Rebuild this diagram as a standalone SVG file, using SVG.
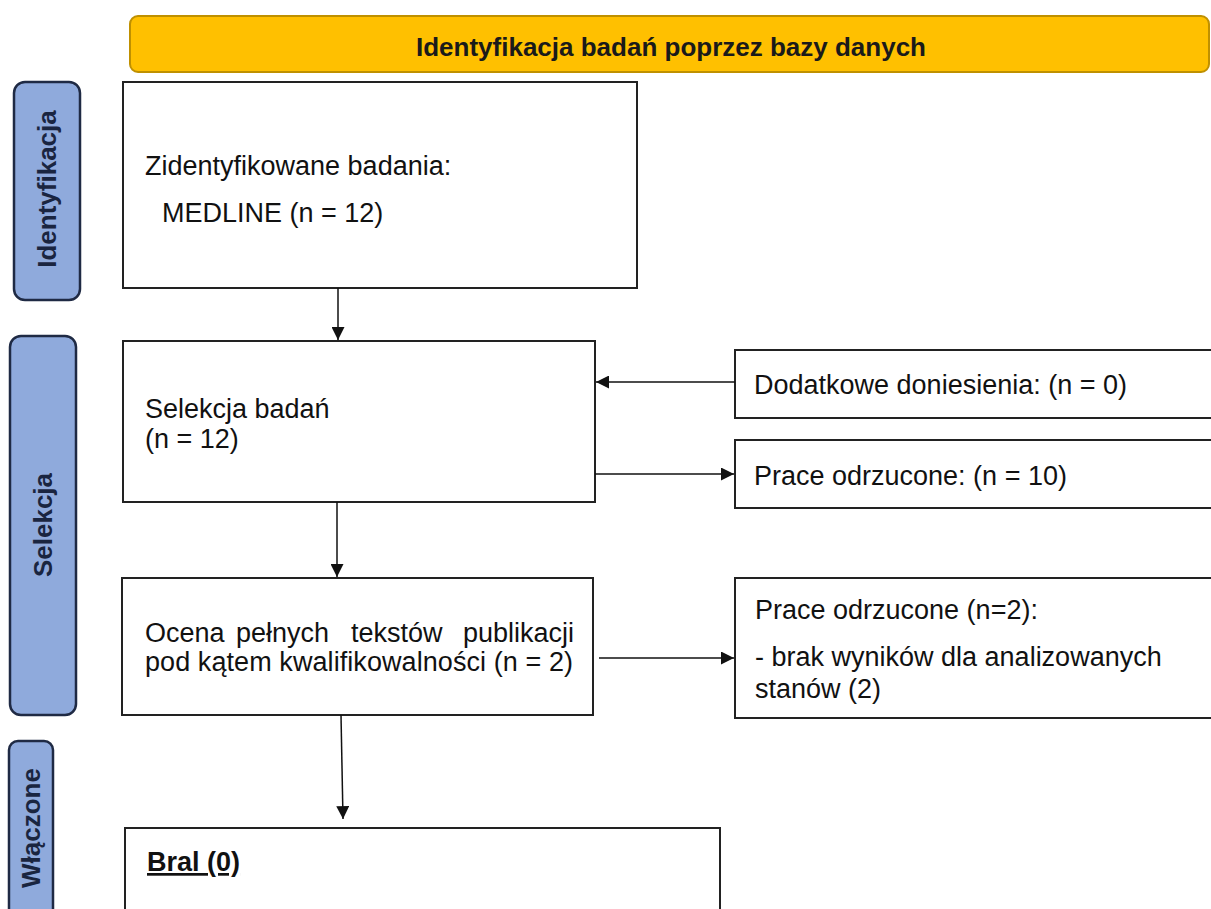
<svg xmlns="http://www.w3.org/2000/svg" width="1211" height="909" viewBox="0 0 1211 909">
<style>
.box{fill:#fff;stroke:#222;stroke-width:2}
.side{fill:#8FAADC;stroke:#1F2A44;stroke-width:2.5}
.t{font-family:"Liberation Sans",Arial,sans-serif;font-size:27px;fill:#111}
.st{font-family:"Liberation Sans",Arial,sans-serif;font-size:26px;font-weight:bold;fill:#1A2540}
.h{font-family:"Liberation Sans",Arial,sans-serif;font-size:26px;font-weight:bold;fill:#1a1a1a}
.c{stroke:#111;stroke-width:1.5;fill:none}
</style>
<defs>
<marker id="ah" viewBox="0 0 10 10" refX="10" refY="5" markerWidth="14" markerHeight="13" markerUnits="userSpaceOnUse" orient="auto">
<path d="M0,0 L10,5 L0,10 Z" fill="#111"/>
</marker>
</defs>
<rect width="1211" height="909" fill="#fff"/>
<g id="banner">
<rect x="130" y="16" width="1079" height="56" rx="8" fill="#FFC000" stroke="#BF9000" stroke-width="2"/>
<text class="h" x="671" y="56" text-anchor="middle">Identyfikacja badań poprzez bazy danych</text>
</g>
<g id="side-identyfikacja">
<rect class="side" x="14" y="82" width="66" height="218" rx="11"/>
<text class="st" transform="translate(56,189) rotate(-90)" text-anchor="middle" font-size="27">Identyfikacja</text>
</g>
<g id="side-selekcja">
<rect class="side" x="10" y="336" width="66" height="379" rx="11"/>
<text class="st" transform="translate(52,525) rotate(-90)" text-anchor="middle">Selekcja</text>
</g>
<g id="side-wlaczone">
<rect class="side" x="9" y="741" width="44" height="190" rx="9"/>
<text class="st" transform="translate(40,828) rotate(-90)" text-anchor="middle">Włączone</text>
</g>
<g id="box-identified">
<rect class="box" x="123" y="82" width="514" height="206"/>
<text class="t" x="145" y="175">Zidentyfikowane badania:</text>
<text class="t" x="162" y="222">MEDLINE (n = 12)</text>
</g>
<g id="box-selekcja">
<rect class="box" x="123" y="341" width="472" height="161"/>
<text class="t" x="145" y="418">Selekcja badań</text>
<text class="t" x="145" y="448">(n = 12)</text>
</g>
<g id="box-dodatkowe">
<rect class="box" x="735" y="350" width="480" height="68"/>
<text class="t" x="754" y="394">Dodatkowe doniesienia: (n = 0)</text>
</g>
<g id="box-odrzucone1">
<rect class="box" x="735" y="440" width="480" height="68"/>
<text class="t" x="754" y="485">Prace odrzucone: (n = 10)</text>
</g>
<g id="box-ocena">
<rect class="box" x="122" y="578" width="471" height="137"/>
<text class="t" y="642"><tspan x="145">Ocena</tspan><tspan x="236">pełnych</tspan><tspan x="351">tekstów</tspan><tspan x="463">publikacji</tspan></text>
<text class="t" x="145" y="671" textLength="428" lengthAdjust="spacing">pod kątem kwalifikowalności (n = 2)</text>
</g>
<g id="box-odrzucone2">
<rect class="box" x="735" y="578" width="480" height="140"/>
<text class="t" x="755" y="619">Prace odrzucone (n=2):</text>
<text class="t" x="755" y="666">- brak wyników dla analizowanych</text>
<text class="t" x="755" y="698">stanów (2)</text>
</g>
<g id="box-wlaczone">
<rect class="box" x="125" y="828" width="595" height="100"/>
<text class="t" x="147" y="871" font-weight="bold" text-decoration="underline">Bral (0)</text>
</g>
<g id="connectors">
<line class="c" x1="338" y1="288" x2="338" y2="340" marker-end="url(#ah)"/>
<line class="c" x1="735" y1="382" x2="596" y2="382" marker-end="url(#ah)"/>
<line class="c" x1="595" y1="474" x2="734" y2="474" marker-end="url(#ah)"/>
<line class="c" x1="337" y1="502" x2="337" y2="577" marker-end="url(#ah)"/>
<line class="c" x1="599" y1="658" x2="734" y2="658" marker-end="url(#ah)"/>
<line class="c" x1="341" y1="715" x2="343" y2="819" marker-end="url(#ah)"/>
</g>
</svg>
